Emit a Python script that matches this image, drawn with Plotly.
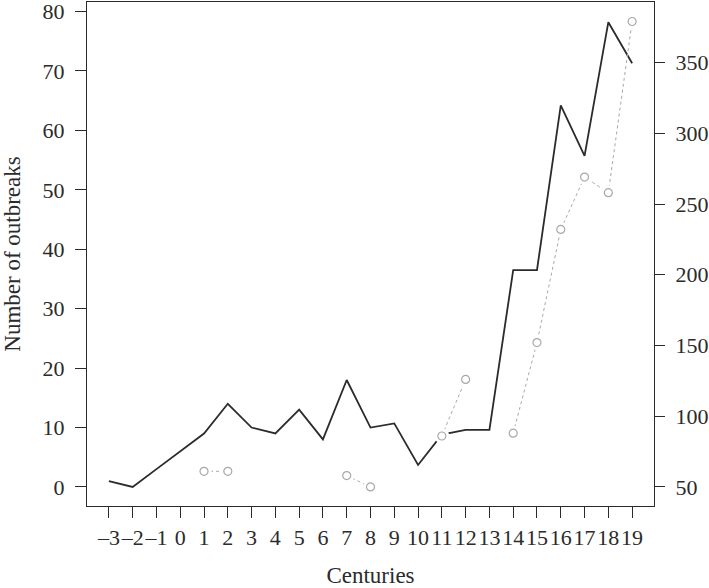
import plotly.graph_objects as go

# siècles (-3 = IIIe siècle av. J.-C.)
centuries = list(range(-3, 20))
century_labels = [str(c).replace("-", "\u2013") for c in centuries]

# nombre d'épidémies (axe gauche, ligne continue)
outbreaks = [1, 0, 3, 6, 9, 14, 10, 9, 13, 8, 18, 10, 10.7, 3.7, 8.8, 9.6, 9.6,
             36.5, 36.5, 64.2, 55.7, 78.2, 71.3]

# seconde série (axe droit, pointillés avec trous)
second_series = [None, None, None, None, 61, 61, None, None, None, None, 58, 50,
                 None, None, 86, 126, None, 88, 152, 232, 269, 258, 379]

left_ticks = [0, 10, 20, 30, 40, 50, 60, 70, 80]
right_ticks = [50, 100, 150, 200, 250, 300, 350]

font_family = "Liberation Serif, Times New Roman, serif"
ink = "#2b2b2b"
grey = "#a8a8a8"

fig = go.Figure()

fig.add_trace(go.Scatter(
    x=centuries, y=outbreaks,
    mode="lines",
    line=dict(color=ink, width=1.8),
    yaxis="y",
    hoverinfo="skip",
))

# pointillés
fig.add_trace(go.Scatter(
    x=centuries, y=second_series,
    mode="lines",
    line=dict(color=grey, width=1, dash="dot"),
    connectgaps=False,
    yaxis="y2",
    hoverinfo="skip",
))

# petits blancs autour des points (style type="b")
fig.add_trace(go.Scatter(
    x=centuries, y=second_series,
    mode="markers",
    marker=dict(symbol="circle", size=15, color="white", line=dict(width=0)),
    yaxis="y2",
    hoverinfo="skip",
))

fig.add_trace(go.Scatter(
    x=centuries, y=second_series,
    mode="markers",
    marker=dict(symbol="circle-open", size=8, color=grey, line=dict(width=1.2)),
    yaxis="y2",
    hoverinfo="skip",
))

axis_font = dict(family=font_family, size=22, color=ink)
title_font = dict(family=font_family, size=23, color=ink)

fig.update_layout(
    width=709,
    height=588,
    margin=dict(l=87, r=55, t=2, b=82),
    paper_bgcolor="white",
    plot_bgcolor="white",
    showlegend=False,
    font=dict(family=font_family, color=ink),
    xaxis=dict(
        range=[-3.92, 19.92],
        tickvals=centuries,
        ticktext=century_labels,
        tickangle=0,
        automargin=False,
        ticks="outside", ticklen=11, tickwidth=1.2, tickcolor=ink,
        tickfont=axis_font,
        showline=True, linecolor=ink, linewidth=1.3, mirror=True,
        showgrid=False, zeroline=False,
        title=dict(text="Centuries", font=title_font, standoff=32),
    ),
    yaxis=dict(
        range=[-3.2, 81.6],
        tickvals=left_ticks,
        automargin=False,
        ticklabeloverflow="allow",
        ticks="outside", ticklen=11, tickwidth=1.2, tickcolor=ink,
        tickfont=axis_font,
        ticklabelstandoff=6,
        showline=True, linecolor=ink, linewidth=1.3,
        showgrid=False, zeroline=False,
        title=dict(text="Number of outbreaks", font=title_font),
    ),
    yaxis2=dict(
        range=[36.5, 392.8],
        tickvals=right_ticks,
        overlaying="y", side="right",
        automargin=False,
        ticklabeloverflow="allow",
        ticks="outside", ticklen=10, tickwidth=1.2, tickcolor=ink,
        tickfont=axis_font,
        ticklabelstandoff=6,
        showline=True, linecolor=ink, linewidth=1.3,
        showgrid=False, zeroline=False,
    ),
)

# pas de marge autour de la page, pas de barre d'outils
fig.write_html("out.html", config={"displayModeBar": False},
               post_script="document.body.style.margin='0';")
